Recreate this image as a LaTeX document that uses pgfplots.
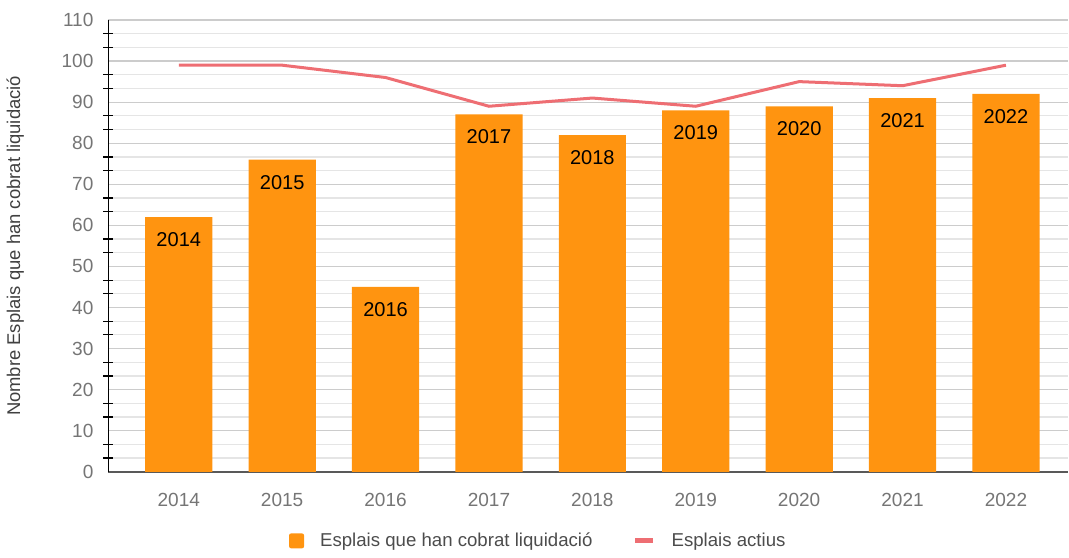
\documentclass[border=0pt]{standalone}
\usepackage{pgfplots}
\pgfplotsset{compat=1.18}
\usepackage{pgfplotstable}
\usepackage{fontspec}
\setmainfont{Liberation Sans}

\definecolor{barorange}{HTML}{FF9410}
\definecolor{linered}{HTML}{EE6E73}
\definecolor{ticktext}{HTML}{757575}

% year, liquidacio, actius
\pgfplotstableread{
x  y   act  lab
0  62  99   2014
1  76  99   2015
2  45  96   2016
3  87  89   2017
4  82  91   2018
5  88  89   2019
6  89  95   2020
7  91  94   2021
8  92  99   2022
}\esplais

\begin{document}
\begin{tikzpicture}
\begin{axis}[
    scale only axis,
    width=479pt, height=225.5pt,
    xmin=-0.68, xmax=8.6,
    ymin=0, ymax=110,
    xtick={0,...,8},
    xticklabels={2014,2015,2016,2017,2018,2019,2020,2021,2022},
    ytick={0,10,...,110},
    minor y tick num=2,
    axis lines*=left,
    x axis line style={draw=black!65, line width=1pt},
    y axis line style={draw=black, line width=0.75pt},
    major tick length=0pt,
    minor tick length=5pt,
    tick align=center,
    minor tick style={black, line width=0.6pt},
    ymajorgrids, yminorgrids,
    major grid style={draw=black!20, line width=0.6pt},
    minor grid style={draw=black!10, line width=0.6pt},
    /pgf/number format/assume math mode=true,
    ticklabel style={font=\fontsize{9.5}{11}\selectfont, text=ticktext},
    xticklabel style={yshift=-7pt},
    yticklabel style={xshift=-4pt},
    ylabel={Nombre Esplais que han cobrat liquidació},
    ylabel style={font=\fontsize{9.2}{11}\selectfont, text=black!75,
        at={(axis description cs:-0.097,0.5)}, anchor=center},
    legend columns=2,
    legend style={at={(0.449,-0.153)}, anchor=center, draw=none, fill=none,
        font=\fontsize{9.3}{11}\selectfont, text=black!70,
        /tikz/every odd column/.append style={column sep=6pt},
        /tikz/every even column/.append style={column sep=18pt}},
    legend cell align=left,
]
\addplot[ybar, bar width=0.65, fill=barorange, draw=none,
    nodes near coords={\pgfplotspointmeta},
    point meta=explicit symbolic,
    every node near coord/.append style={anchor=north, inner sep=0pt, yshift=-7.5pt,
        font=\fontsize{10}{12}\selectfont, text=black},
    legend image code/.code={\fill[barorange, rounded corners=1pt] (0pt,-3.7pt) rectangle (7.5pt,3.7pt);}
] table[x=x, y=y, meta=lab] {\esplais};
\addlegendentry{Esplais que han cobrat liquidació}
\addplot[color=linered, line width=1.5pt, mark=none,
    legend image code/.code={\draw[linered, line width=2.5pt] (0pt,0pt) -- (9pt,0pt);}
] table[x=x, y=act] {\esplais};
\addlegendentry{Esplais actius}
\end{axis}
\path ([yshift=10pt]current axis.north);
\path ([yshift=-40pt]current axis.south);
\end{tikzpicture}
\end{document}
